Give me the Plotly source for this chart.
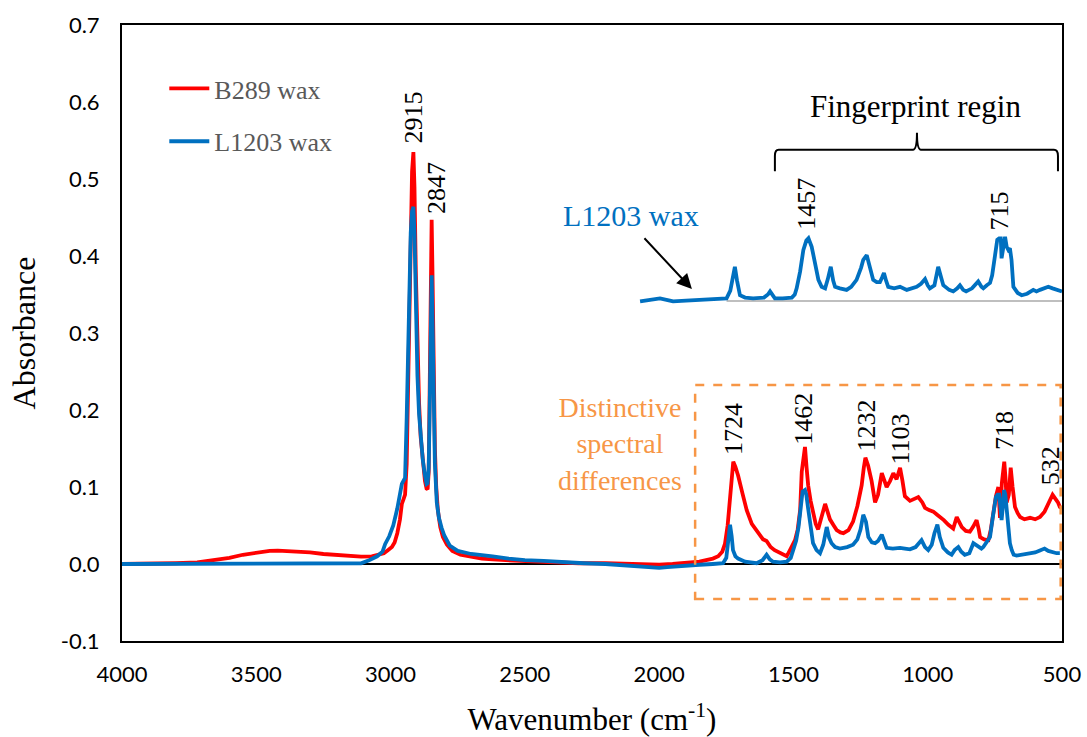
import plotly.graph_objects as go

# ---- FTIR spectra (wavenumber in cm-1, absorbance) ----
b289_wn = [4000, 3900, 3800, 3720, 3650, 3600, 3550, 3500, 3450, 3420, 3380, 3340, 3300, 3250,
           3200, 3150, 3110, 3070, 3040, 3025, 3010, 2995, 2985, 2975, 2965, 2958, 2952, 2946,
           2940, 2935, 2930, 2925, 2920, 2915, 2911, 2906, 2900, 2894, 2888, 2880, 2872, 2866,
           2862, 2858, 2854, 2851, 2847, 2844, 2840, 2835, 2830, 2824, 2815, 2805, 2790, 2770,
           2740, 2700, 2660, 2620, 2580, 2520, 2450, 2380, 2300, 2200, 2100, 2000, 1950, 1900,
           1850, 1800, 1780, 1765, 1755, 1745, 1738, 1730, 1724, 1716, 1706, 1690, 1674, 1655,
           1635, 1613, 1600, 1585, 1570, 1550, 1535, 1525, 1510, 1494, 1484, 1475, 1469, 1463,
           1457, 1451, 1445, 1436, 1427, 1417, 1408, 1395, 1382, 1373, 1364, 1350, 1339, 1325,
           1314, 1295, 1278, 1262, 1246, 1238, 1232, 1222, 1209, 1196, 1185, 1171, 1162, 1153,
           1140, 1128, 1116, 1108, 1103, 1094, 1085, 1066, 1050, 1035, 1020, 1010, 995, 979,
           965, 954, 940, 923, 905, 892, 882, 873, 858, 843, 830, 818, 810, 805, 790, 774,
           765, 756, 746, 737, 731, 724, 719, 715, 710, 706, 698, 691, 684, 675, 665, 656,
           640, 619, 600, 582, 565, 550, 540, 535, 525, 515, 508, 500]
b289_abs = [0.000, 0.000, 0.001, 0.002, 0.005, 0.008, 0.012, 0.015, 0.017, 0.0175, 0.017, 0.016,
            0.015, 0.013, 0.012, 0.010, 0.0095, 0.010, 0.012, 0.014, 0.018, 0.022, 0.028, 0.040,
            0.058, 0.078, 0.084, 0.090, 0.130, 0.220, 0.330, 0.430, 0.510, 0.535, 0.490, 0.380,
            0.280, 0.210, 0.165, 0.130, 0.108, 0.098, 0.097, 0.120, 0.220, 0.360, 0.447, 0.380,
            0.250, 0.150, 0.100, 0.070, 0.048, 0.035, 0.025, 0.017, 0.012, 0.009, 0.007, 0.006,
            0.005, 0.004, 0.003, 0.002, 0.001, 0.001, 0.000, -0.001, 0.000, 0.001, 0.003, 0.007,
            0.010, 0.016, 0.026, 0.050, 0.080, 0.118, 0.133, 0.126, 0.115, 0.092, 0.070, 0.052,
            0.042, 0.032, 0.030, 0.022, 0.018, 0.014, 0.011, 0.010, 0.020, 0.031, 0.045, 0.070,
            0.120, 0.135, 0.152, 0.125, 0.102, 0.082, 0.068, 0.052, 0.045, 0.060, 0.078, 0.068,
            0.058, 0.050, 0.044, 0.041, 0.040, 0.044, 0.055, 0.075, 0.102, 0.125, 0.138, 0.128,
            0.108, 0.080, 0.090, 0.118, 0.110, 0.100, 0.108, 0.118, 0.110, 0.122, 0.125, 0.108,
            0.088, 0.082, 0.084, 0.087, 0.080, 0.073, 0.070, 0.068, 0.064, 0.061, 0.057, 0.051,
            0.046, 0.061, 0.054, 0.048, 0.043, 0.042, 0.049, 0.057, 0.045, 0.035, 0.032, 0.031,
            0.045, 0.066, 0.088, 0.100, 0.060, 0.105, 0.125, 0.133, 0.110, 0.080, 0.090, 0.125,
            0.100, 0.074, 0.066, 0.061, 0.058, 0.060, 0.058, 0.061, 0.068, 0.078, 0.086, 0.090,
            0.085, 0.080, 0.074, 0.072]

l1203_wn = [4000, 3900, 3800, 3700, 3600, 3500, 3400, 3300, 3200, 3150, 3110, 3080, 3050, 3030,
            3020, 3005, 2990, 2975, 2965, 2958, 2952, 2946, 2940, 2935, 2930, 2925, 2920, 2915,
            2911, 2906, 2900, 2894, 2888, 2880, 2872, 2866, 2862, 2858, 2854, 2851, 2847, 2844,
            2840, 2835, 2828, 2820, 2810, 2800, 2780, 2750, 2700, 2660, 2620, 2560, 2500, 2430,
            2350, 2280, 2200, 2100, 2040, 2000, 1970, 1940, 1900, 1850, 1800, 1762, 1750, 1743,
            1736, 1730, 1725, 1716, 1706, 1680, 1660, 1637, 1615, 1600, 1588, 1576, 1550, 1525,
            1510, 1501, 1490, 1481, 1475, 1466, 1457, 1452, 1446, 1436, 1427, 1414, 1401, 1389,
            1376, 1367, 1358, 1345, 1327, 1300, 1278, 1262, 1250, 1240, 1230, 1221, 1208, 1196,
            1185, 1171, 1162, 1153, 1130, 1103, 1085, 1066, 1045, 1023, 1010, 998, 985, 975,
            964, 955, 942, 925, 911, 900, 886, 875, 862, 845, 830, 812, 800, 793, 780, 768,
            758, 746, 740, 734, 728, 725, 720, 716, 711, 705, 700, 694, 687, 680, 669, 650,
            619, 600, 580, 565, 551, 535, 520, 508, 500]
l1203_abs = [0.000, 0.000, 0.000, 0.000, 0.000, 0.000, 0.000, 0.000, 0.000, 0.000, 0.001, 0.005,
             0.010, 0.016, 0.026, 0.036, 0.050, 0.072, 0.092, 0.104, 0.108, 0.112, 0.190, 0.290,
             0.370, 0.430, 0.458, 0.464, 0.430, 0.330, 0.245, 0.195, 0.165, 0.135, 0.115, 0.104,
             0.105, 0.125, 0.210, 0.320, 0.375, 0.320, 0.210, 0.130, 0.080, 0.060, 0.047, 0.037,
             0.024, 0.017, 0.013, 0.012, 0.010, 0.007, 0.005, 0.004, 0.002, 0.001, 0.000, -0.002,
             -0.004, -0.005, -0.004, -0.003, -0.002, -0.001, 0.000, 0.001, 0.008, 0.027, 0.051,
             0.036, 0.018, 0.010, 0.007, 0.003, 0.002, 0.001, 0.005, 0.012, 0.006, 0.003, 0.002,
             0.003, 0.008, 0.018, 0.030, 0.048, 0.070, 0.094, 0.096, 0.090, 0.074, 0.045, 0.027,
             0.018, 0.014, 0.025, 0.048, 0.034, 0.027, 0.022, 0.020, 0.022, 0.025, 0.032, 0.045,
             0.064, 0.055, 0.035, 0.028, 0.027, 0.030, 0.038, 0.030, 0.021, 0.020, 0.021, 0.020,
             0.019, 0.022, 0.031, 0.022, 0.018, 0.025, 0.040, 0.051, 0.035, 0.021, 0.015, 0.012,
             0.018, 0.022, 0.016, 0.012, 0.014, 0.027, 0.022, 0.020, 0.022, 0.029, 0.035, 0.060,
             0.087, 0.090, 0.090, 0.070, 0.057, 0.075, 0.096, 0.090, 0.070, 0.045, 0.027, 0.018,
             0.012, 0.011, 0.012, 0.013, 0.015, 0.018, 0.020, 0.017, 0.015, 0.014, 0.014]

# ---- offset fingerprint-region view of L1203 wax ----
inset_wn = [2071, 2030, 1997, 1960, 1948, 1900, 1860, 1837, 1790, 1749, 1735, 1725, 1718, 1710,
            1699, 1680, 1650, 1610, 1595, 1587, 1578, 1569, 1540, 1506, 1495, 1488, 1475, 1463,
            1452, 1444, 1432, 1420, 1407, 1395, 1382, 1372, 1361, 1352, 1345, 1327, 1302, 1285,
            1265, 1248, 1240, 1227, 1215, 1203, 1190, 1178, 1170, 1163, 1155, 1147, 1125, 1103,
            1078, 1060, 1041, 1025, 1010, 1000, 992, 975, 961, 950, 942, 920, 905, 890, 880, 868,
            857, 835, 812, 800, 793, 780, 768, 760, 753, 746, 741, 734, 728, 725, 719, 712, 706,
            700, 694, 688, 681, 665, 650, 630, 607, 595, 582, 565, 551, 535, 520, 500]
inset_abs = [0.341, 0.343, 0.345, 0.342, 0.341, 0.342, 0.343, 0.344, 0.344, 0.345, 0.355, 0.375,
             0.386, 0.368, 0.349, 0.346, 0.345, 0.346, 0.350, 0.354, 0.350, 0.345, 0.345, 0.346,
             0.350, 0.358, 0.380, 0.408, 0.420, 0.423, 0.412, 0.390, 0.369, 0.360, 0.358, 0.370,
             0.386, 0.368, 0.360, 0.358, 0.356, 0.360, 0.369, 0.385, 0.395, 0.401, 0.385, 0.369,
             0.366, 0.366, 0.372, 0.378, 0.368, 0.360, 0.358, 0.360, 0.356, 0.358, 0.360, 0.364,
             0.370, 0.362, 0.358, 0.362, 0.386, 0.372, 0.362, 0.356, 0.354, 0.358, 0.362, 0.356,
             0.354, 0.358, 0.367, 0.360, 0.358, 0.362, 0.365, 0.375, 0.395, 0.410, 0.421, 0.423,
             0.423, 0.397, 0.410, 0.425, 0.412, 0.408, 0.410, 0.395, 0.360, 0.352, 0.349, 0.351,
             0.356, 0.354, 0.356, 0.358, 0.360, 0.358, 0.356, 0.354]

# peak labels: (text, wavenumber, absorbance at label foot)
peak_labels = [("2915", 2915, 0.544), ("2847", 2827, 0.452), ("1724", 1721, 0.139),
               ("1462", 1461, 0.152), ("1232", 1228, 0.144), ("1103", 1103, 0.126),
               ("718", 712, 0.145), ("532", 542, 0.100), ("1457", 1451, 0.431),
               ("715", 731, 0.431)]

x_ticks = [4000, 3500, 3000, 2500, 2000, 1500, 1000, 500]
y_ticks = [-0.1, 0.0, 0.1, 0.2, 0.3, 0.4, 0.5, 0.6, 0.7]
y_tick_text = ["-0.1", "0.0", "0.1", "0.2", "0.3", "0.4", "0.5", "0.6", "0.7"]

RED = "#FF0000"
BLUE = "#0070C0"
ORANGE = "#F79646"
SERIF = "Liberation Serif"
SANS = "Lato"

fig = go.Figure()
fig.add_trace(go.Scatter(x=b289_wn, y=b289_abs, mode="lines", name="B289 wax",
                         legendgroup="a", line=dict(color=RED, width=3.8)))
fig.add_trace(go.Scatter(x=l1203_wn, y=l1203_abs, mode="lines", name="L1203 wax",
                         legendgroup="b", line=dict(color=BLUE, width=3.8)))
# grey reference baseline under the offset spectrum
fig.add_trace(go.Scatter(x=[inset_wn[9], inset_wn[-1]], y=[0.3416, 0.3416], mode="lines",
                         showlegend=False, line=dict(color="#BFBFBF", width=2)))
fig.add_trace(go.Scatter(x=inset_wn, y=inset_abs, mode="lines", showlegend=False,
                         line=dict(color=BLUE, width=3.8)))

for txt, wn, a in peak_labels:
    fig.add_annotation(x=wn, y=a, text=txt, textangle=-90, showarrow=False,
                       xanchor="center", yanchor="bottom",
                       font=dict(family=SERIF, size=26, color="black"))

# fingerprint region bracket
fig.add_shape(type="path", xref="x", yref="y",
              path="M 1569,0.510 L 1569,0.530 Q 1569,0.538 1555,0.538 L 1055,0.538 "
                   "Q 1040,0.538 1040,0.560 Q 1040,0.538 1025,0.538 L 530,0.538 "
                   "Q 515,0.538 515,0.530 L 515,0.510",
              line=dict(color="black", width=2))
fig.add_annotation(x=1045, y=0.594, text="Fingerprint regin", showarrow=False,
                   font=dict(family=SERIF, size=31, color="black"))

# label and arrow for the offset spectrum
fig.add_annotation(x=1878, y=0.357, ax=2060, ay=0.425, axref="x", ayref="y",
                   text="", showarrow=True, arrowhead=2, arrowsize=1.5, arrowwidth=2,
                   arrowcolor="black")
fig.add_annotation(x=2105, y=0.452, text="L1203 wax", showarrow=False,
                   font=dict(family=SERIF, size=30, color=BLUE))

# dashed box around the distinctive region
fig.add_shape(type="rect", xref="x", yref="y", x0=1866, x1=505, y0=-0.0455, y1=0.2325,
              line=dict(color=ORANGE, width=2.5, dash="dash"))
fig.add_annotation(x=2146, y=0.156, text="Distinctive<br>spectral<br>differences",
                   showarrow=False, align="center",
                   font=dict(family=SERIF, size=28, color=ORANGE))

fig.update_layout(
    width=1087, height=737,
    margin=dict(l=122, r=25, t=25, b=96),
    plot_bgcolor="white", paper_bgcolor="white",
    showlegend=True,
    legend=dict(x=0.045, y=0.935, xanchor="left", yanchor="top", bgcolor="rgba(0,0,0,0)",
                font=dict(family=SERIF, size=26, color="#595959"), tracegroupgap=16,
                itemwidth=40),
    xaxis=dict(range=[4000, 500], tickvals=x_ticks, showgrid=False, zeroline=False,
               showline=True, mirror=True, linecolor="black", linewidth=2, ticks="",
               automargin=False, ticklabelstandoff=13,
               tickfont=dict(family=SANS, size=22, color="black"),
               title=dict(text="Wavenumber (cm<sup>-1</sup>)", standoff=24,
                          font=dict(family=SERIF, size=31, color="black"))),
    yaxis=dict(range=[-0.1, 0.7], tickvals=y_ticks, ticktext=y_tick_text, showgrid=False,
               zeroline=True, zerolinecolor="black", zerolinewidth=2,
               showline=True, mirror=True, linecolor="black", linewidth=2, ticks="",
               automargin=False, ticklabelstandoff=16,
               tickfont=dict(family=SANS, size=22, color="black"),
               title=dict(text="Absorbance", standoff=16,
                          font=dict(family=SERIF, size=32, color="black"))),
)

fig.write_html("out.html")
